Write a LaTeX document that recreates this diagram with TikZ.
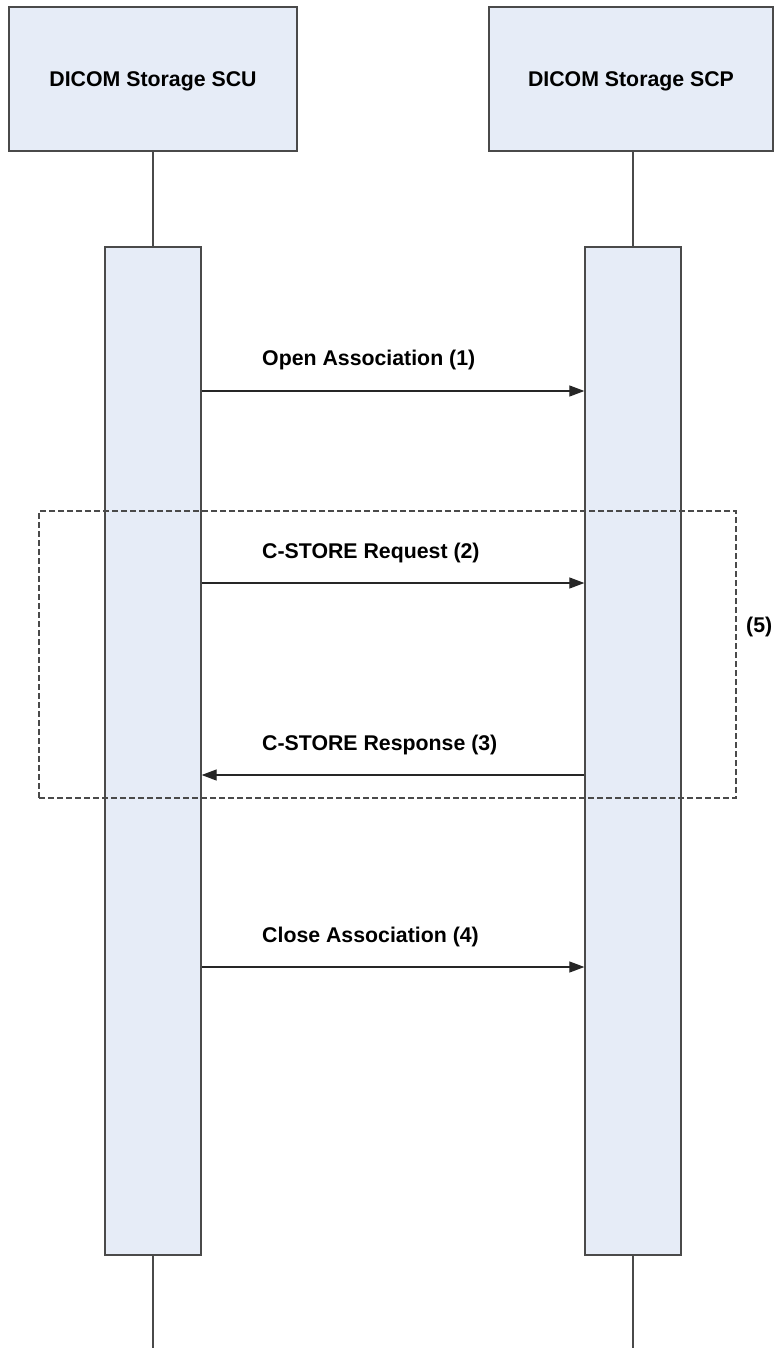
\documentclass[tikz,border=0pt]{standalone}
\usepackage{fontspec}
\setmainfont{Liberation Sans}
\usetikzlibrary{arrows.meta}
\definecolor{boxfill}{HTML}{E6ECF7}
\definecolor{linec}{HTML}{4A4A4A}
\begin{document}
\begin{tikzpicture}[x=1pt,y=-1pt,
  every node/.style={font=\fontsize{21.3}{25}\selectfont\bfseries},
  header/.style={draw=linec, line width=1.3pt, fill=boxfill, minimum height=144pt, inner sep=0pt, text depth=0pt},
  actbar/.style={draw=linec, line width=1.3pt, fill=boxfill, minimum width=96pt, minimum height=1008pt, inner sep=0pt},
  lifeline/.style={draw=linec, line width=1.3pt},
  msg/.style={draw=black!85, line width=1.2pt, -{Triangle[length=15pt,width=11pt]}},
  lbl/.style={anchor=base west, inner sep=0pt},
  groupbox/.style={draw=linec, line width=1.1pt, dash pattern=on 6pt off 3pt}]
\useasboundingbox (0,0) rectangle (774,1348);
% headers
\node[header, minimum width=288pt] (hL) at (153,79) {DICOM Storage SCU};
\node[header, minimum width=284pt] (hR) at (631,79) {DICOM Storage SCP};
% activation bars
\node[actbar] (bL) at (153,751) {};
\node[actbar] (bR) at (633,751) {};
% lifeline ends
\coordinate (eL) at (153,1348);
\coordinate (eR) at (633,1348);
\draw[lifeline] (hL.south) -- (bL.north);
\draw[lifeline] (hR.south -| bR.north) -- (bR.north);
\draw[lifeline] (bL.south) -- (eL);
\draw[lifeline] (bR.south) -- (eR);
% group box
\node[groupbox, minimum width=697pt, minimum height=287pt, inner sep=0pt] (grp) at (387.5,654.5) {};
\node[lbl] (g5) at (746,632) {(5)};
% message levels
\coordinate (m1) at (0,391);
\coordinate (m2) at (0,583);
\coordinate (m3) at (0,775);
\coordinate (m4) at (0,967);
\draw[msg] (bL.east |- m1) -- (bR.west |- m1);
\draw[msg] (bL.east |- m2) -- (bR.west |- m2);
\draw[msg] (bR.west |- m3) -- (bL.east |- m3);
\draw[msg] (bL.east |- m4) -- (bR.west |- m4);
% labels
\node[lbl] (l1) at (262,365) {Open Association (1)};
\node[lbl] (l2) at (262,558) {C-STORE Request (2)};
\node[lbl] (l3) at (262,750) {C-STORE Response (3)};
\node[lbl] (l4) at (262,942) {Close Association (4)};
\end{tikzpicture}
\end{document}
